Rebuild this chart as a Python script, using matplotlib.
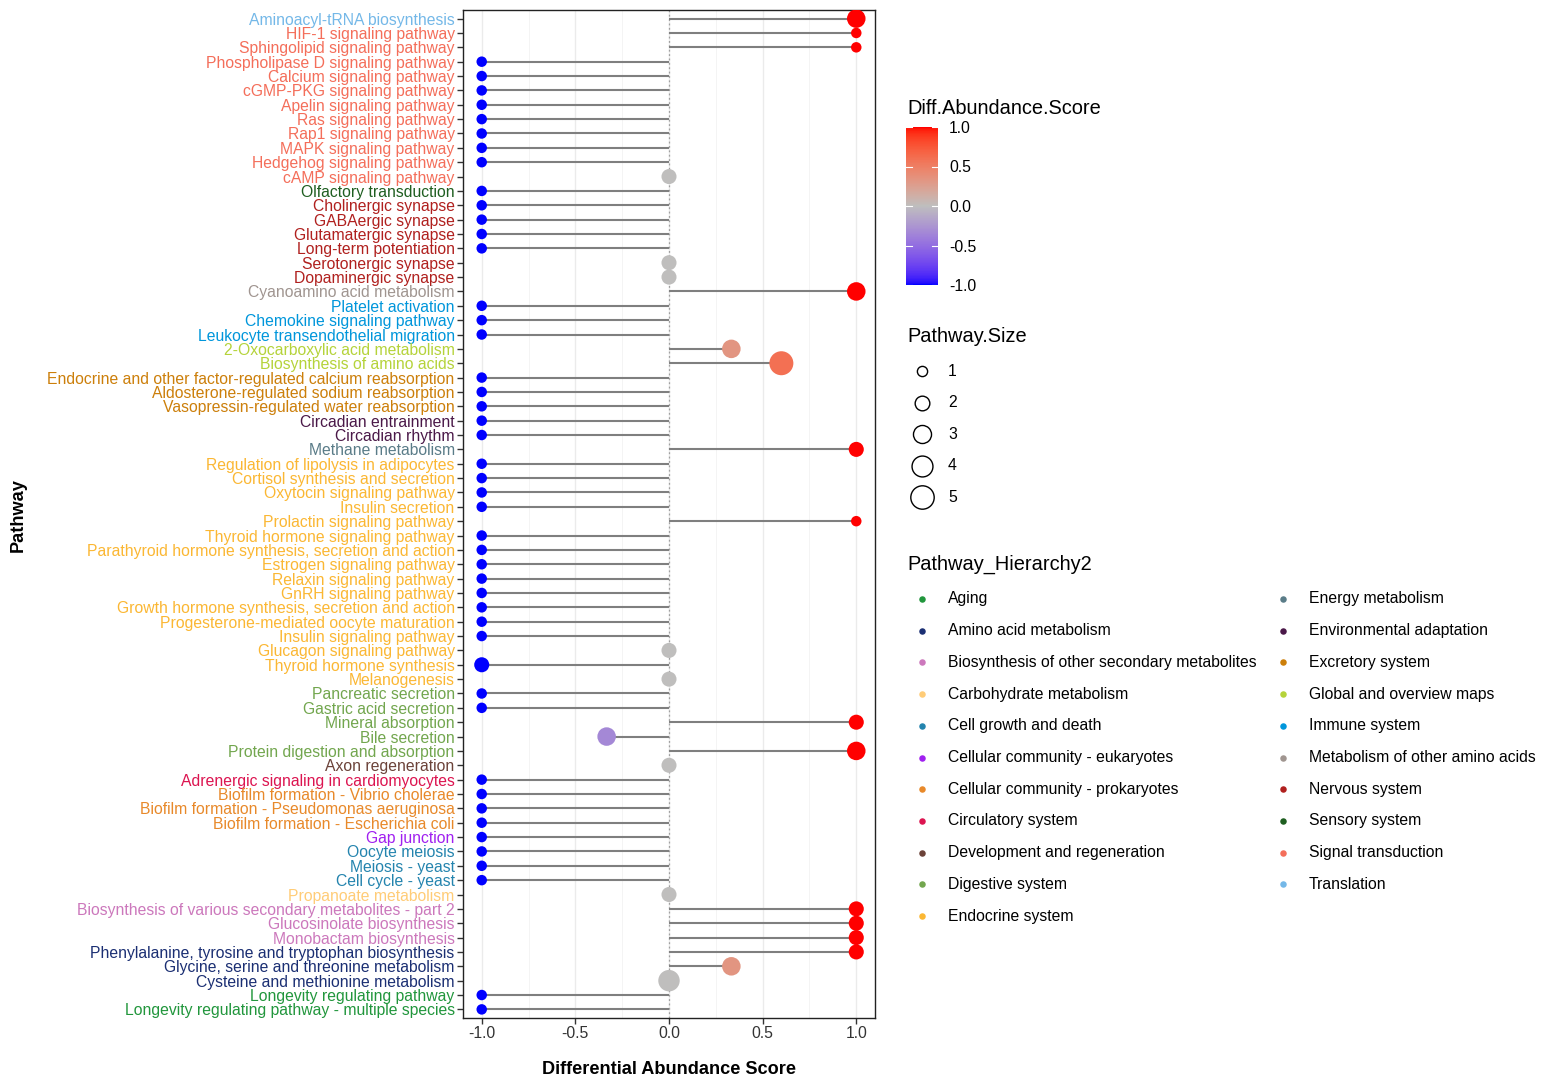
import numpy as np
import matplotlib
matplotlib.use("Agg")
import matplotlib.pyplot as plt
from matplotlib.colors import ListedColormap, Normalize

plt.rcParams['font.family'] = ['Liberation Sans', 'DejaVu Sans']

# ---------------- data (top to bottom) ----------------
pathways = [
    "Aminoacyl-tRNA biosynthesis", "HIF-1 signaling pathway", "Sphingolipid signaling pathway",
    "Phospholipase D signaling pathway", "Calcium signaling pathway", "cGMP-PKG signaling pathway",
    "Apelin signaling pathway", "Ras signaling pathway", "Rap1 signaling pathway",
    "MAPK signaling pathway", "Hedgehog signaling pathway", "cAMP signaling pathway",
    "Olfactory transduction", "Cholinergic synapse", "GABAergic synapse",
    "Glutamatergic synapse", "Long-term potentiation", "Serotonergic synapse",
    "Dopaminergic synapse", "Cyanoamino acid metabolism", "Platelet activation",
    "Chemokine signaling pathway", "Leukocyte transendothelial migration",
    "2-Oxocarboxylic acid metabolism", "Biosynthesis of amino acids",
    "Endocrine and other factor-regulated calcium reabsorption",
    "Aldosterone-regulated sodium reabsorption", "Vasopressin-regulated water reabsorption",
    "Circadian entrainment", "Circadian rhythm", "Methane metabolism",
    "Regulation of lipolysis in adipocytes", "Cortisol synthesis and secretion",
    "Oxytocin signaling pathway", "Insulin secretion", "Prolactin signaling pathway",
    "Thyroid hormone signaling pathway", "Parathyroid hormone synthesis, secretion and action",
    "Estrogen signaling pathway", "Relaxin signaling pathway", "GnRH signaling pathway",
    "Growth hormone synthesis, secretion and action", "Progesterone-mediated oocyte maturation",
    "Insulin signaling pathway", "Glucagon signaling pathway", "Thyroid hormone synthesis",
    "Melanogenesis", "Pancreatic secretion", "Gastric acid secretion", "Mineral absorption",
    "Bile secretion", "Protein digestion and absorption", "Axon regeneration",
    "Adrenergic signaling in cardiomyocytes", "Biofilm formation - Vibrio cholerae",
    "Biofilm formation - Pseudomonas aeruginosa", "Biofilm formation - Escherichia coli",
    "Gap junction", "Oocyte meiosis", "Meiosis - yeast", "Cell cycle - yeast",
    "Propanoate metabolism", "Biosynthesis of various secondary metabolites - part 2",
    "Glucosinolate biosynthesis", "Monobactam biosynthesis",
    "Phenylalanine, tyrosine and tryptophan biosynthesis",
    "Glycine, serine and threonine metabolism", "Cysteine and methionine metabolism",
    "Longevity regulating pathway", "Longevity regulating pathway - multiple species",
]

hierarchy = (
    ["Translation"] + ["Signal transduction"] * 11 + ["Sensory system"] +
    ["Nervous system"] * 6 + ["Metabolism of other amino acids"] +
    ["Immune system"] * 3 + ["Global and overview maps"] * 2 +
    ["Excretory system"] * 3 + ["Environmental adaptation"] * 2 +
    ["Energy metabolism"] + ["Endocrine system"] * 16 + ["Digestive system"] * 5 +
    ["Development and regeneration"] + ["Circulatory system"] +
    ["Cellular community - prokaryotes"] * 3 + ["Cellular community - eukaryotes"] +
    ["Cell growth and death"] * 3 + ["Carbohydrate metabolism"] +
    ["Biosynthesis of other secondary metabolites"] * 3 +
    ["Amino acid metabolism"] * 3 + ["Aging"] * 2
)

scores = [
    1, 1, 1, -1, -1, -1, -1, -1, -1, -1, -1, 0,
    -1, -1, -1, -1, -1, 0, 0, 1, -1, -1, -1, 0.333, 0.6,
    -1, -1, -1, -1, -1, 1,
    -1, -1, -1, -1, 1, -1, -1, -1, -1, -1, -1, -1, -1, 0, -1, 0,
    -1, -1, 1, -0.333, 1, 0, -1, -1, -1, -1, -1, -1, -1, -1, 0,
    1, 1, 1, 1, 0.333, 0, -1, -1,
]

sizes = [
    3, 1, 1, 1, 1, 1, 1, 1, 1, 1, 1, 2,
    1, 1, 1, 1, 1, 2, 2, 3, 1, 1, 1, 3, 5,
    1, 1, 1, 1, 1, 2,
    1, 1, 1, 1, 1, 1, 1, 1, 1, 1, 1, 1, 1, 2, 2, 2,
    1, 1, 2, 3, 3, 2, 1, 1, 1, 1, 1, 1, 1, 1, 2,
    2, 2, 2, 2, 3, 4, 1, 1,
]

hier_names = [
    "Aging", "Amino acid metabolism", "Biosynthesis of other secondary metabolites",
    "Carbohydrate metabolism", "Cell growth and death", "Cellular community - eukaryotes",
    "Cellular community - prokaryotes", "Circulatory system", "Development and regeneration",
    "Digestive system", "Endocrine system", "Energy metabolism", "Environmental adaptation",
    "Excretory system", "Global and overview maps", "Immune system",
    "Metabolism of other amino acids", "Nervous system", "Sensory system",
    "Signal transduction", "Translation",
]
hier_colors = [
    "#21963C", "#1B2F73", "#CC78BC", "#FFCC77", "#2484AE", "#A020F0",
    "#E8892A", "#DC1450", "#6B4239", "#72A64E", "#FBB733", "#5A7C88",
    "#4A1848", "#CC7F0A", "#B5D33A", "#0096DB", "#A09590", "#B0201E",
    "#1E5E20", "#F46E5A", "#74B8E8",
]
size_breaks = [1, 2, 3, 4, 5]
x_ticks = [-1.0, -0.5, 0.0, 0.5, 1.0]

hier_color_map = dict(zip(hier_names, hier_colors))

# ---------------- diverging colormap in Lab (blue - grey - red) ----------------
def _hex2rgb(h):
    h = h.lstrip('#')
    return np.array([int(h[i:i + 2], 16) for i in (0, 2, 4)]) / 255.0

_M = np.array([[0.4124, 0.3576, 0.1805], [0.2126, 0.7152, 0.0722], [0.0193, 0.1192, 0.9505]])
_W = np.array([0.95047, 1.0, 1.08883])

def rgb2lab(rgb):
    lin = np.where(rgb <= 0.04045, rgb / 12.92, ((rgb + 0.055) / 1.055) ** 2.4)
    xyz = _M @ lin / _W
    f = np.where(xyz > 0.008856, np.cbrt(xyz), 7.787 * xyz + 16 / 116)
    return np.array([116 * f[1] - 16, 500 * (f[0] - f[1]), 200 * (f[1] - f[2])])

def lab2rgb(lab):
    fy = (lab[0] + 16) / 116
    fx = fy + lab[1] / 500
    fz = fy - lab[2] / 200
    f = np.array([fx, fy, fz])
    xyz = np.where(f ** 3 > 0.008856, f ** 3, (f - 16 / 116) / 7.787) * _W
    lin = np.linalg.solve(_M, xyz)
    lin = np.clip(lin, 0, 1)
    rgb = np.where(lin <= 0.0031308, 12.92 * lin, 1.055 * lin ** (1 / 2.4) - 0.055)
    return np.clip(rgb, 0, 1)

lab_lo, lab_mid, lab_hi = (rgb2lab(_hex2rgb(c)) for c in ("#0000FF", "#BEBEBE", "#FF0000"))
cols = []
for t in np.linspace(0, 1, 256):
    if t < 0.5:
        u = t / 0.5
        lab = lab_lo + (lab_mid - lab_lo) * u
    else:
        u = (t - 0.5) / 0.5
        lab = lab_mid + (lab_hi - lab_mid) * u
    cols.append(lab2rgb(lab))
cmap = ListedColormap(np.array(cols))
norm = Normalize(-1, 1)

def diam_px(s):
    return np.sqrt(-6.5 + 116.5 * np.asarray(s, dtype=float))

def s_pts(s):
    return (diam_px(s) * 0.72) ** 2

# ---------------- figure ----------------
W, H = 1559, 1091
fig = plt.figure(figsize=(W / 100, H / 100), dpi=100)

L, R, T, B = 463, 875, 10, 1018
ax = fig.add_axes([L / W, 1 - B / H, (R - L) / W, (B - T) / H])

n = len(pathways)
ypos = np.arange(n)
scores_a = np.array(scores)

ax.set_xlim(-1.1, 1.1)
ax.set_ylim(n - 1 + 0.6, -0.6)

# grid
for xv in [-1.0, -0.5, 0.0, 0.5, 1.0]:
    ax.axvline(xv, color="#EBEBEB", lw=1.0, zorder=0)
for xv in [-0.75, -0.25, 0.25, 0.75]:
    ax.axvline(xv, color="#F2F2F2", lw=0.6, zorder=0)
ax.axvline(0, color="#A0A0A0", lw=0.9, ls=(0, (1.5, 2)), zorder=1)

ax.hlines(ypos, 0, scores_a, color="#7F7F7F", lw=1.5, zorder=2)
ax.scatter(scores_a, ypos, s=s_pts(sizes), c=scores_a, cmap=cmap, norm=norm,
           linewidths=0, zorder=3)

ax.set_yticks(ypos)
ax.set_yticklabels(pathways, fontsize=11.35)
for lbl, h in zip(ax.get_yticklabels(), hierarchy):
    lbl.set_color(hier_color_map[h])
ax.set_xticks(x_ticks)
ax.set_xticklabels([f"{v:.1f}" for v in x_ticks], fontsize=11.3, color="#333333")
ax.tick_params(axis='both', length=4, width=1, color="#333333", pad=2)
for sp in ax.spines.values():
    sp.set_color("#222222")
    sp.set_linewidth(1.0)

fig.text(669 / W, 1 - 1070 / H, "Differential Abundance Score", ha="center", va="center",
         fontsize=13.1, fontweight="bold")
fig.text(18 / W, 1 - 515 / H, "Pathway", ha="center", va="center", rotation=90,
         fontsize=13.1, fontweight="bold")

# ---------------- colour bar ----------------
fig.text(907 / W, 1 - 108 / H, "Diff.Abundance.Score", ha="left", va="center", fontsize=14.4)
cax = fig.add_axes([906 / W, 1 - 285 / H, 32 / W, 158 / H])
sm = plt.cm.ScalarMappable(norm=norm, cmap=cmap)
cb = fig.colorbar(sm, cax=cax, ticks=x_ticks)
cb.outline.set_visible(False)
cb.ax.set_yticklabels([f"{v:.1f}" for v in x_ticks], fontsize=11.3)
cb.ax.tick_params(length=0, pad=8)
for v in x_ticks:
    cax.plot([0, 0.2], [v, v], color="white", lw=0.8, transform=cax.get_yaxis_transform())
    cax.plot([0.8, 1.0], [v, v], color="white", lw=0.8, transform=cax.get_yaxis_transform())

# ---------------- overlay for legends ----------------
lax = fig.add_axes([0, 0, 1, 1])
lax.set_xlim(0, W)
lax.set_ylim(H, 0)
lax.axis("off")

lax.text(907, 336, "Pathway.Size", ha="left", va="center", fontsize=14.4)
for i, sb in enumerate(size_breaks):
    yy = 371 + i * 31.6
    lax.scatter([922], [yy], s=s_pts(sb) * 0.95, facecolors="white", edgecolors="black",
                linewidths=1.0)
    lax.text(948, yy, str(sb), ha="left", va="center", fontsize=11.3)

lax.text(907, 564, "Pathway_Hierarchy2", ha="left", va="center", fontsize=14.4)
for i, (nm, col) in enumerate(zip(hier_names, hier_colors)):
    c, r = divmod(i, 11)
    xd = 922 + c * 361
    yy = 599 + r * 31.7
    lax.scatter([xd], [yy], s=(6.5 * 0.72) ** 2, color=col, linewidths=0)
    lax.text(xd + 26, yy, nm, ha="left", va="center", fontsize=11.3)

fig.savefig("out.png", dpi=100)
